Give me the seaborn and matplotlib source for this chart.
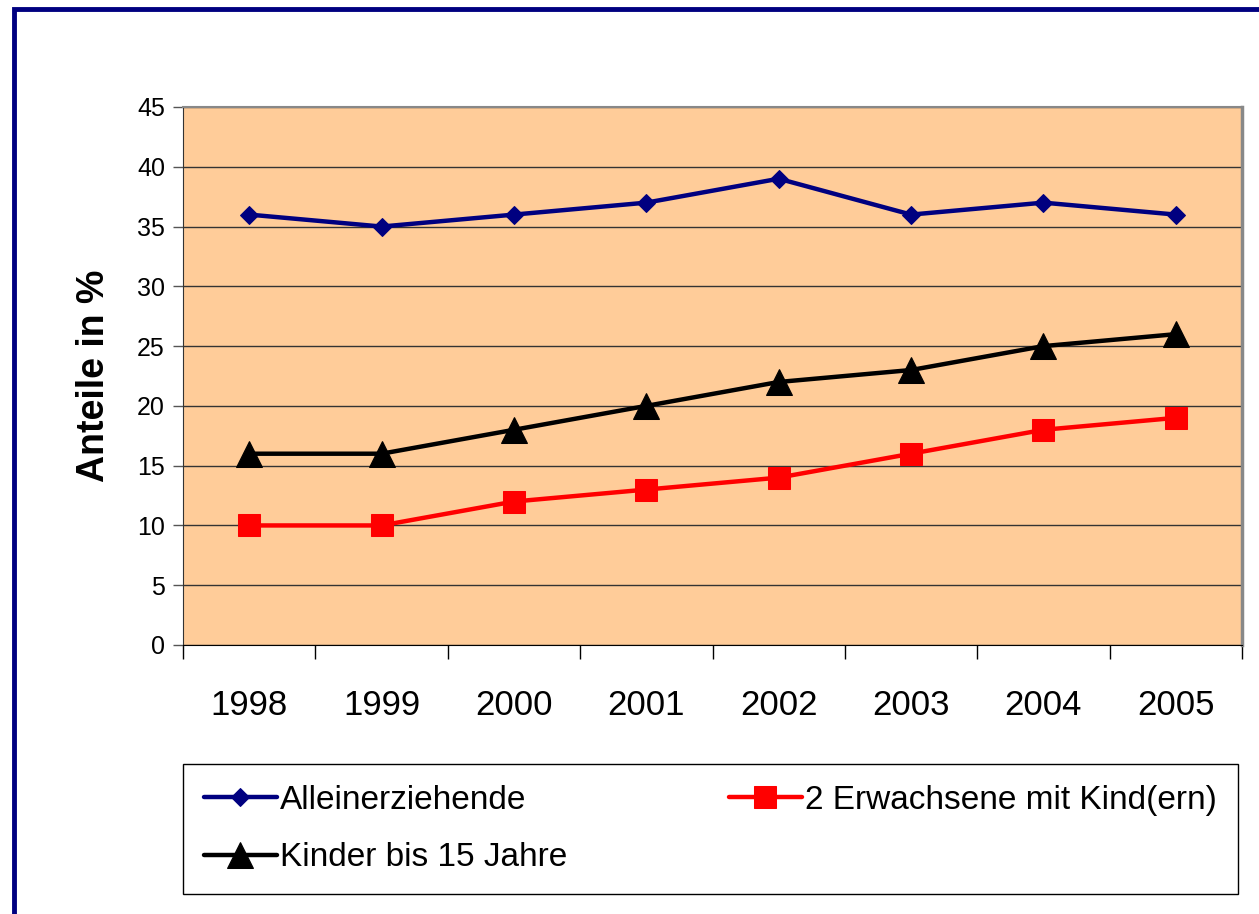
import matplotlib
matplotlib.use('Agg')
import matplotlib.pyplot as plt
import matplotlib.patches as patches
import seaborn as sns
import pandas as pd
import numpy as np

# Daten
jahre = ['1998', '1999', '2000', '2001', '2002', '2003', '2004', '2005']
alleinerziehende = [36, 35, 36, 37, 39, 36, 37, 36]
zwei_erwachsene = [10, 10, 12, 13, 14, 16, 18, 19]
kinder = [16, 16, 18, 20, 22, 23, 25, 26]
serien = ['Alleinerziehende', '2 Erwachsene mit Kind(ern)', 'Kinder bis 15 Jahre']

sns.set_style('white')
plt.rcParams['font.family'] = ['Liberation Sans', 'DejaVu Sans']
plt.rcParams['text.color'] = 'black'
plt.rcParams['xtick.color'] = 'black'
plt.rcParams['ytick.color'] = 'black'
plt.rcParams['axes.labelcolor'] = 'black'

fig = plt.figure(figsize=(12.59, 9.14), dpi=100)
ax = fig.add_axes([183/1259, 1 - 645/914, (1242 - 183)/1259, (645 - 107)/914])
ax.set_facecolor('#FFCC99')

# Rahmen um die ganze Grafik
fig.patches.append(patches.Rectangle((14/1259, -0.1), 1.2, 1.1 - 9/914, transform=fig.transFigure,
                                     fill=False, edgecolor='#000080', linewidth=3.5, zorder=0))

x = np.arange(len(jahre))
stile = [
    (alleinerziehende, '#000080', 'D', 9),
    (zwei_erwachsene, '#FF0000', 's', 16),
    (kinder, '#000000', '^', 19),
]
handles = []
for (werte, farbe, marker, ms), name in zip(stile, serien):
    df = pd.DataFrame({'x': x, 'Wert': werte})
    sns.lineplot(data=df, x='x', y='Wert', ax=ax, color=farbe, marker=marker,
                 markersize=ms, markeredgecolor=farbe, linewidth=3.2, label=name, legend=False)
    handles.append(ax.lines[-1])

ax.set_xlim(-0.5, len(jahre) - 0.5)
ax.set_ylim(0, 45)
ax.set_yticks(range(0, 46, 5))
ax.yaxis.grid(True, color='#333333', linewidth=1)
ax.set_axisbelow(True)
ax.tick_params(axis='y', which='major', left=True, length=7, width=1, color='#555555',
               labelsize=18, pad=6)
ax.set_xticks(x)
ax.set_xticklabels(jahre)
ax.set_xticks(np.arange(-0.5, len(jahre)), minor=True)
ax.tick_params(axis='x', which='major', length=0, labelsize=25, pad=32)
ax.tick_params(axis='x', which='minor', bottom=True, length=10, width=1, color='black')
ax.set_xlabel('')
ax.set_ylabel('Anteile in %', fontsize=27, fontweight='bold', labelpad=18)
for side in ['top', 'right']:
    ax.spines[side].set_color('#888888')
ax.spines['right'].set_linewidth(2.5)
ax.spines['top'].set_linewidth(1.5)
ax.spines['left'].set_color('#333333')
ax.spines['bottom'].set_color('black')

# Legende
order = [handles[0], handles[2], handles[1]]
labels = [serien[0], serien[2], serien[1]]
leg = fig.legend(order, labels, loc='lower left',
                 bbox_to_anchor=(183/1259, 1 - 894/914, (1238 - 183)/1259, (894 - 768)/914),
                 mode='expand', ncol=2, fontsize=24, frameon=True, fancybox=False,
                 edgecolor='black', framealpha=1, handlelength=2.2, handletextpad=0.1,
                 borderpad=0.62, labelspacing=0.8, borderaxespad=0)
leg.get_frame().set_linewidth(1)

fig.savefig('out.png', dpi=100)
